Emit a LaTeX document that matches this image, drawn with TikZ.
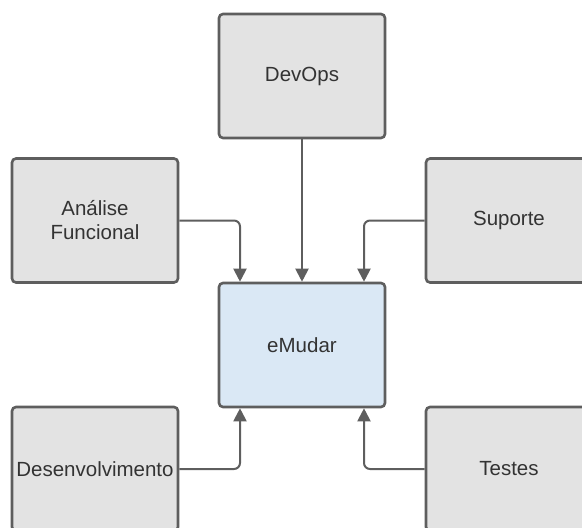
\documentclass[tikz,border=0pt]{standalone}
\usepackage{fontspec}
\setmainfont{Liberation Sans}
\usetikzlibrary{arrows.meta}
\definecolor{boxgray}{HTML}{E3E3E3}
\definecolor{boxblue}{HTML}{DAE8F5}
\definecolor{edge}{HTML}{5E5E5E}
\definecolor{ink}{HTML}{333333}
\tikzset{
  card/.style={draw=edge, line width=2.6pt, fill=boxgray, rounded corners=4pt,
    minimum width=166pt, minimum height=124pt, inner sep=2pt, align=center,
    text=ink, font=\fontsize{20.5pt}{24pt}\selectfont},
  core/.style={card, fill=boxblue},
  conn/.style={draw=edge, line width=2pt, rounded corners=6pt,
    -{Triangle[length=13pt,width=13pt]}}
}
\begin{document}
\begin{tikzpicture}[x=1pt,y=-1pt]
  \useasboundingbox (0,0) rectangle (582,528);
  \clip (0,0) rectangle (582,528);
  \node[card] (dev) at (302,76) {DevOps};
  \node[card] (ana) at (95,220.5) {Análise\\Funcional};
  \node[card] (sup) at (509,220.5) {Suporte};
  \node[core] (emu) at (302,345) {eMudar};
  \node[card] (des) at (95,469) {Desenvolvimento};
  \node[card] (tes) at (509,469) {Testes};
  \coordinate (nl) at ([xshift=-62pt]emu.north);
  \coordinate (nr) at ([xshift=62pt]emu.north);
  \coordinate (sl) at ([xshift=-62pt]emu.south);
  \coordinate (sr) at ([xshift=62pt]emu.south);
  \draw[conn] (dev.south) -- (emu.north);
  \draw[conn] (ana.east) -| (nl);
  \draw[conn] (sup.west) -| (nr);
  \draw[conn] (des.east) -| (sl);
  \draw[conn] (tes.west) -| (sr);
\end{tikzpicture}
\end{document}
